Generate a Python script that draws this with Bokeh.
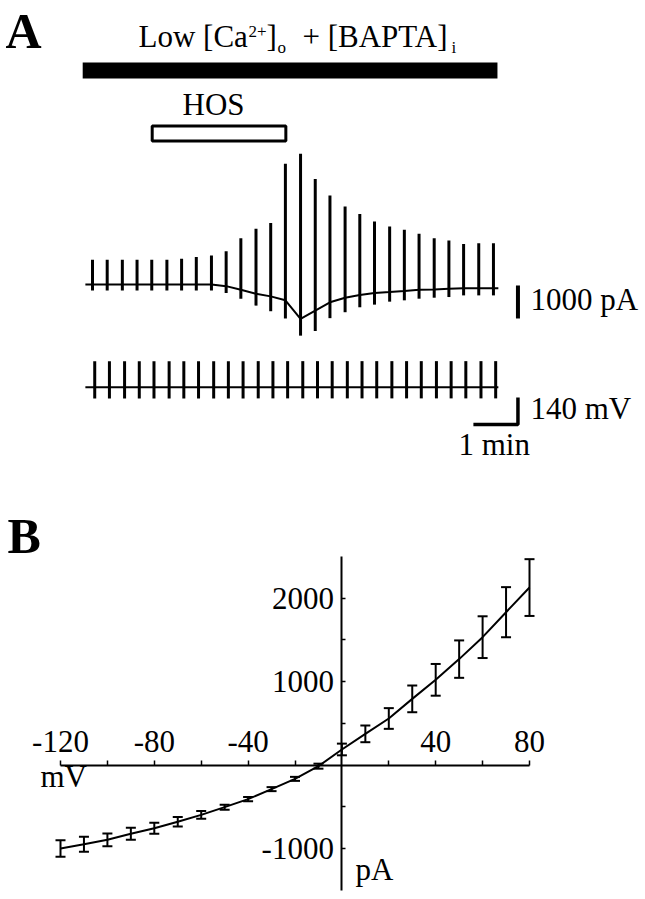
from bokeh.plotting import figure
from bokeh.layouts import column
from bokeh.models import Range1d, LinearAxis, FixedTicker, Whisker, TeeHead, ColumnDataSource
from bokeh.core.properties import value
from bokeh.embed import file_html
from bokeh.resources import INLINE

FONT = "Liberation Serif"

# ---------------- Panel A data ----------------
# stimulation (ramp) times, minutes
stim_min = [0.00, 0.33, 0.67, 1.00, 1.33, 1.67, 2.00, 2.33, 2.67, 3.00,
            3.33, 3.67, 4.00, 4.33, 4.67, 5.00, 5.33, 5.67, 6.00, 6.33,
            6.67, 7.00, 7.33, 7.67, 8.00, 8.33, 8.67, 9.00]
# holding current at each stimulation, pA
holding_pA = [0, 0, 0, 0, 0, 0, 0, 0, 0, -50,
              -160, -280, -360, -480, -1040, -790, -540, -400, -320, -260,
              -230, -200, -160, -150, -130, -110, -110, -110]
# peak outward / inward current of each ramp response, pA
spike_top_pA = [750, 750, 750, 750, 750, 750, 780, 830, 880, 1010,
                1400, 1690, 1860, 3660, 3960, 3200, 2700, 2360, 2140, 1910,
                1760, 1660, 1540, 1400, 1330, 1230, 1250, 1250]
spike_bottom_pA = [-180, -180, -180, -180, -180, -180, -180, -180, -180, -260,
                   -430, -640, -810, -1030, -1550, -1410, -1020, -840, -690, -610,
                   -520, -480, -430, -400, -380, -330, -330, -330]
trace_start_min, trace_end_min = -0.16, 9.11
trace_end_pA = -110

# voltage command trace
vm_offset_min = 0.05
vm_top_mV = [135, 135, 135, 135, 135, 135, 135, 135, 135, 135,
             135, 135, 135, 135, 135, 135, 135, 135, 135, 135,
             135, 135, 135, 135, 135, 135, 135, 135]
vm_bottom_mV = [-58, -58, -58, -58, -58, -58, -58, -58, -58, -58,
                -58, -58, -58, -58, -58, -58, -58, -58, -58, -58,
                -58, -58, -58, -58, -58, -58, -58, -58]

bath_span_min = (-0.22, 9.09)      # Low [Ca2+]o + [BAPTA]i
hos_span_min = (1.34, 4.34)        # HOS

scale_pA, scale_mV, scale_min = 1000, 140, 1

# ---------------- Panel B data ----------------
vm_B = [-120, -110, -100, -90, -80, -70, -60, -50, -40, -30, -20,
        -10, 0, 10, 20, 30, 40, 50, 60, 70, 80]
i_mean = [-1000, -950, -896, -824, -757, -680, -597, -505, -409, -289, -166,
          -14, 186, 373, 557, 792, 1020, 1268, 1531, 1830, 2125]
i_sem = [100, 90, 76, 72, 66, 56, 46, 30, 26, 24, 24,
         30, 70, 100, 124, 160, 190, 224, 250, 300, 340]
x_major = [-120, -80, -40, 40, 80]
x_minor = [-100, -60, -20, 20, 60]
y_major = [-1000, 1000, 2000]
y_minor = [-500, 500, 1500]

# ---------------- layout constants (page px) ----------------
W = 645
A_TOP, A_BOT = 0, 488
B_TOP, B_BOT = 488, 899
X_LEFT, X_RIGHT = 0, W
# panel A mapping
T0_PX, PX_PER_MIN = 92.0, 44.55
PA0_PX, PX_PER_PA = 284.0, 0.033
MV0_PX, PX_PER_MV = 386.7, 0.193
# panel B mapping
V0_PX, PX_PER_MVB = 341.4, 2.345
I0_PX, PX_PER_PAB = 764.5, 0.0835

TS = 31
BASE_SHIFT = 0.36   # em correction for the text baseline

# ================= Panel A =================
pa = figure(width=W, height=A_BOT - A_TOP, output_backend="svg", toolbar_location=None,
            min_border=0, x_axis_type=None, y_axis_type=None,
            x_range=Range1d((X_LEFT - T0_PX) / PX_PER_MIN, (X_RIGHT - T0_PX) / PX_PER_MIN),
            y_range=Range1d((PA0_PX - A_BOT) / PX_PER_PA, (PA0_PX - A_TOP) / PX_PER_PA))
pa.outline_line_color = None
pa.extra_y_ranges = {"mv": Range1d((MV0_PX - A_BOT) / PX_PER_MV, (MV0_PX - A_TOP) / PX_PER_MV),
                     "page": Range1d(A_BOT, A_TOP)}
pa.extra_x_ranges = {"pagex": Range1d(X_LEFT, X_RIGHT)}

# current trace
pa.line([trace_start_min] + stim_min + [trace_end_min],
        [0] + holding_pA + [trace_end_pA], line_width=2, color="black")
pa.segment(x0=stim_min, y0=spike_bottom_pA, x1=stim_min, y1=spike_top_pA,
           line_width=3, color="black")

# voltage trace
vt = [t + vm_offset_min for t in stim_min]
pa.line([trace_start_min, trace_end_min], [0, 0], y_range_name="mv", line_width=2, color="black")
pa.segment(x0=vt, y0=vm_bottom_mV, x1=vt, y1=vm_top_mV, y_range_name="mv",
           line_width=3, color="black")

# solution bars
pa.quad(left=[bath_span_min[0]], right=[bath_span_min[1]], top=[62], bottom=[78],
        y_range_name="page", fill_color="black", line_color=None)
pa.quad(left=[hos_span_min[0]], right=[hos_span_min[1]], top=[125.5], bottom=[140.5],
        y_range_name="page", fill_color="white", line_color="black", line_width=3)

# scale bars
sb_t = 9.55
pa.segment(x0=[sb_t], y0=[-30], x1=[sb_t], y1=[-30 - scale_pA], line_width=4, color="black")
corner_mV = -193
pa.line([sb_t - scale_min, sb_t, sb_t], [corner_mV, corner_mV, corner_mV + scale_mV],
        y_range_name="mv", line_width=3.5, color="black")

def txt(p, x, y, s, size=TS, bold=False, align="left"):
    p.text(x=[x], y=[y - BASE_SHIFT * size], text=[s], x_range_name="pagex", y_range_name="page",
           text_font=value(FONT), text_font_size=f"{size}px", text_color="black",
           text_baseline="alphabetic", text_align=align,
           text_font_style="bold" if bold else "normal")

txt(pa, 5, 48, "A", size=50, bold=True)
txt(pa, 138, 47, "Low [Ca")
txt(pa, 248, 37, "2+", size=17)
txt(pa, 266, 47, "]")
txt(pa, 277, 53, "o", size=17)
txt(pa, 302, 47, "+ [BAPTA]")
txt(pa, 451, 53, "i", size=17)
txt(pa, 182, 115, "HOS")
txt(pa, 530, 310, "1000 pA")
txt(pa, 530, 419, "140 mV")
txt(pa, 458, 455, "1 min")

# ================= Panel B =================
pb = figure(width=W, height=B_BOT - B_TOP, output_backend="svg", toolbar_location=None,
            min_border=0, x_axis_type=None, y_axis_type=None,
            x_range=Range1d((X_LEFT - V0_PX) / PX_PER_MVB, (X_RIGHT - V0_PX) / PX_PER_MVB),
            y_range=Range1d((I0_PX - B_BOT) / PX_PER_PAB, (I0_PX - B_TOP) / PX_PER_PAB))
pb.outline_line_color = None
pb.extra_y_ranges = {"page": Range1d(B_BOT, B_TOP)}
pb.extra_x_ranges = {"pagex": Range1d(X_LEFT, X_RIGHT)}

axis_style = dict(axis_line_width=2, axis_line_color="black",
                  major_tick_line_width=1.5, minor_tick_line_width=1.5,
                  major_tick_line_color="black", minor_tick_line_color="black",
                  major_label_text_font=FONT, major_label_text_font_size=f"{TS}px",
                  major_label_text_color="black", major_label_standoff=8)

xax = LinearAxis(fixed_location=0, bounds=(vm_B[0], vm_B[-1]),
                 ticker=FixedTicker(ticks=x_major, minor_ticks=x_minor),
                 major_label_overrides={t: str(t) for t in x_major},
                 major_tick_out=5, major_tick_in=0, minor_tick_out=5, minor_tick_in=0,
                 **axis_style)
pb.add_layout(xax, "above")
yax = LinearAxis(fixed_location=0, bounds=(-1500, 2500),
                 ticker=FixedTicker(ticks=y_major, minor_ticks=y_minor),
                 major_label_overrides={t: str(t) for t in y_major},
                 major_tick_out=0, major_tick_in=4, minor_tick_out=0, minor_tick_in=4,
                 **axis_style)
pb.add_layout(yax, "left")

src = ColumnDataSource(dict(x=vm_B, y=i_mean,
                            lower=[m - s for m, s in zip(i_mean, i_sem)],
                            upper=[m + s for m, s in zip(i_mean, i_sem)]))
pb.line("x", "y", source=src, line_width=2, color="black")
wh = Whisker(source=src, base="x", lower="lower", upper="upper", dimension="height",
             line_width=2, line_color="black",
             upper_head=TeeHead(size=10, line_width=2, line_color="black"),
             lower_head=TeeHead(size=10, line_width=2, line_color="black"))
pb.add_layout(wh)

txt(pb, 7, 553, "B", size=50, bold=True)
txt(pb, 40, 787, "mV")
txt(pb, 355, 880, "pA")

layout = column(pa, pb, spacing=0)
open("out.html", "w").write(file_html(layout, INLINE))
